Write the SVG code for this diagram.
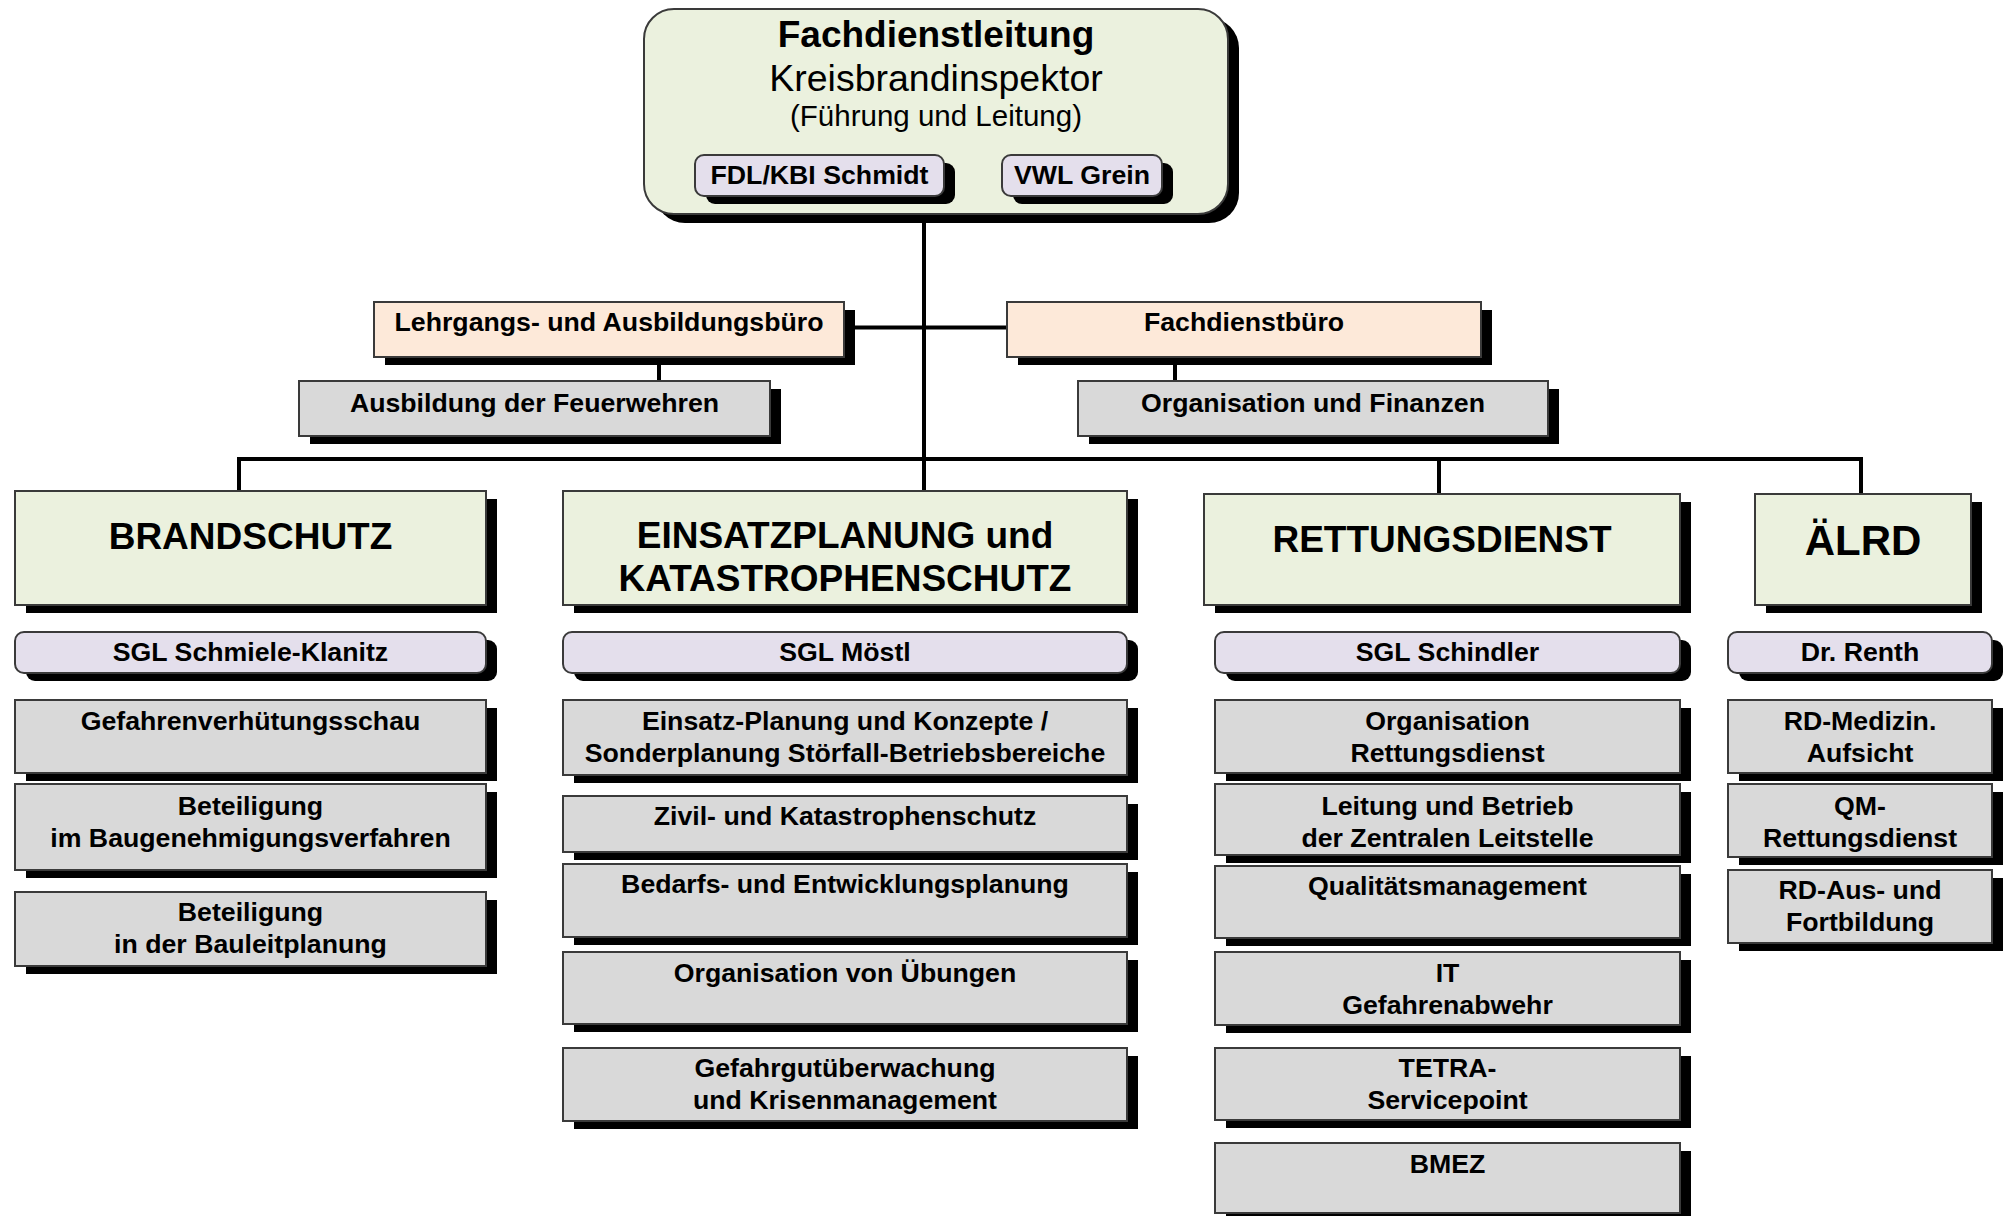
<svg xmlns="http://www.w3.org/2000/svg" width="2006" height="1216" viewBox="0 0 2006 1216">
<style>
text{font-family:"Liberation Sans",Arial,Helvetica,sans-serif;fill:#000;text-anchor:middle}
.b{font-weight:bold;font-size:26.7px}
.h{font-weight:bold;font-size:37px}
.sh{fill:#000}
.g{fill:#ebf1de;stroke:#3a3a3a;stroke-width:2}
.p{fill:#fde9d9;stroke:#3a3a3a;stroke-width:2}
.l{fill:#e4dfec;stroke:#3a3a3a;stroke-width:2}
.y{fill:#d9d9d9;stroke:#3a3a3a;stroke-width:2}
.c{fill:none;stroke:#000;stroke-width:4}
</style>
<rect width="2006" height="1216" fill="#fff"/>
<g id="connectors">
<path class="c" d="M924 214V491"/>
<path class="c" d="M844 327.5H1007"/>
<path class="c" d="M659 357V381"/>
<path class="c" d="M1175 357V381"/>
<path class="c" d="M239 459H1861"/>
<path class="c" d="M239 457V491"/>
<path class="c" d="M1439 457V494"/>
<path class="c" d="M1861 457V494"/>
</g>
<g id="fachdienstleitung">
<rect class="sh" x="655" y="18" width="584" height="205" rx="30"/>
<rect class="g" x="644" y="9" width="584" height="205" rx="30"/>
<text x="936" y="47" style="font-weight:bold;font-size:37px">Fachdienstleitung</text>
<text x="936" y="91" style="font-size:37.5px">Kreisbrandinspektor</text>
<text x="936" y="126" style="font-size:29.5px">(Führung und Leitung)</text>
</g>
<g id="fdl-kbi-schmidt">
<rect class="sh" x="706" y="163" width="249" height="41" rx="9"/>
<rect class="l" x="695" y="155" width="249" height="41" rx="9"/>
<text class="b" x="819.5" y="184">FDL/KBI Schmidt</text>
</g>
<g id="vwl-grein">
<rect class="sh" x="1013" y="163" width="160" height="41" rx="9"/>
<rect class="l" x="1002" y="155" width="160" height="41" rx="9"/>
<text class="b" x="1082" y="184">VWL Grein</text>
</g>
<g id="lehrgangsbuero">
<rect class="sh" x="385" y="310" width="470" height="55"/>
<rect class="p" x="374" y="302" width="470" height="55"/>
<text class="b" x="609" y="331">Lehrgangs- und Ausbildungsbüro</text>
</g>
<g id="fachdienstbuero">
<rect class="sh" x="1018" y="310" width="474" height="55"/>
<rect class="p" x="1007" y="302" width="474" height="55"/>
<text class="b" x="1244" y="331">Fachdienstbüro</text>
</g>
<g id="ausbildung">
<rect class="sh" x="310" y="389" width="471" height="55"/>
<rect class="y" x="299" y="381" width="471" height="55"/>
<text class="b" x="534.5" y="412">Ausbildung der Feuerwehren</text>
</g>
<g id="organisation-finanzen">
<rect class="sh" x="1089" y="389" width="470" height="55"/>
<rect class="y" x="1078" y="381" width="470" height="55"/>
<text class="b" x="1313" y="412">Organisation und Finanzen</text>
</g>
<g id="brandschutz">
<rect class="sh" x="26" y="499" width="471" height="114"/>
<rect class="g" x="15" y="491" width="471" height="114"/>
<text class="h" x="250.5" y="549">BRANDSCHUTZ</text>
</g>
<g id="einsatzplanung">
<rect class="sh" x="574" y="499" width="564" height="114"/>
<rect class="g" x="563" y="491" width="564" height="114"/>
<text class="h" x="845" y="548">EINSATZPLANUNG und</text>
<text class="h" x="845" y="591">KATASTROPHENSCHUTZ</text>
</g>
<g id="rettungsdienst">
<rect class="sh" x="1215" y="502" width="476" height="111"/>
<rect class="g" x="1204" y="494" width="476" height="111"/>
<text class="h" x="1442" y="552">RETTUNGSDIENST</text>
</g>
<g id="aelrd">
<rect class="sh" x="1766" y="502" width="216" height="111"/>
<rect class="g" x="1755" y="494" width="216" height="111"/>
<text x="1863" y="555" style="font-weight:bold;font-size:42px">ÄLRD</text>
</g>
<g id="sgl-schmiele-klanitz">
<rect class="sh" x="26" y="640" width="471" height="41" rx="9"/>
<rect class="l" x="15" y="632" width="471" height="41" rx="9"/>
<text class="b" x="250.5" y="661">SGL Schmiele-Klanitz</text>
</g>
<g id="sgl-moestl">
<rect class="sh" x="574" y="640" width="564" height="41" rx="9"/>
<rect class="l" x="563" y="632" width="564" height="41" rx="9"/>
<text class="b" x="845" y="661">SGL Möstl</text>
</g>
<g id="sgl-schindler">
<rect class="sh" x="1226" y="640" width="465" height="41" rx="9"/>
<rect class="l" x="1215" y="632" width="465" height="41" rx="9"/>
<text class="b" x="1447.5" y="661">SGL Schindler</text>
</g>
<g id="dr-renth">
<rect class="sh" x="1739" y="640" width="264" height="41" rx="9"/>
<rect class="l" x="1728" y="632" width="264" height="41" rx="9"/>
<text class="b" x="1860" y="661">Dr. Renth</text>
</g>
<g id="gefahrenverhuetungsschau">
<rect class="sh" x="26" y="708" width="471" height="73"/>
<rect class="y" x="15" y="700" width="471" height="73"/>
<text class="b" x="250.5" y="730">Gefahrenverhütungsschau</text>
</g>
<g id="baugenehmigung">
<rect class="sh" x="26" y="792" width="471" height="86"/>
<rect class="y" x="15" y="784" width="471" height="86"/>
<text class="b" x="250.5" y="815">Beteiligung</text>
<text class="b" x="250.5" y="847">im Baugenehmigungsverfahren</text>
</g>
<g id="bauleitplanung">
<rect class="sh" x="26" y="900" width="471" height="74"/>
<rect class="y" x="15" y="892" width="471" height="74"/>
<text class="b" x="250.5" y="921">Beteiligung</text>
<text class="b" x="250.5" y="953">in der Bauleitplanung</text>
</g>
<g id="einsatz-planung">
<rect class="sh" x="574" y="708" width="564" height="75"/>
<rect class="y" x="563" y="700" width="564" height="75"/>
<text class="b" x="845" y="730">Einsatz-Planung und Konzepte /</text>
<text class="b" x="845" y="762">Sonderplanung Störfall-Betriebsbereiche</text>
</g>
<g id="zivilschutz">
<rect class="sh" x="574" y="804" width="564" height="56"/>
<rect class="y" x="563" y="796" width="564" height="56"/>
<text class="b" x="845" y="825">Zivil- und Katastrophenschutz</text>
</g>
<g id="bedarfsplanung">
<rect class="sh" x="574" y="872" width="564" height="73"/>
<rect class="y" x="563" y="864" width="564" height="73"/>
<text class="b" x="845" y="893">Bedarfs- und Entwicklungsplanung</text>
</g>
<g id="uebungen">
<rect class="sh" x="574" y="960" width="564" height="72"/>
<rect class="y" x="563" y="952" width="564" height="72"/>
<text class="b" x="845" y="982">Organisation von Übungen</text>
</g>
<g id="gefahrgut">
<rect class="sh" x="574" y="1056" width="564" height="73"/>
<rect class="y" x="563" y="1048" width="564" height="73"/>
<text class="b" x="845" y="1077">Gefahrgutüberwachung</text>
<text class="b" x="845" y="1109">und Krisenmanagement</text>
</g>
<g id="organisation-rd">
<rect class="sh" x="1226" y="708" width="465" height="73"/>
<rect class="y" x="1215" y="700" width="465" height="73"/>
<text class="b" x="1447.5" y="730">Organisation</text>
<text class="b" x="1447.5" y="762">Rettungsdienst</text>
</g>
<g id="leitstelle">
<rect class="sh" x="1226" y="792" width="465" height="71"/>
<rect class="y" x="1215" y="784" width="465" height="71"/>
<text class="b" x="1447.5" y="815">Leitung und Betrieb</text>
<text class="b" x="1447.5" y="847">der Zentralen Leitstelle</text>
</g>
<g id="qualitaetsmanagement">
<rect class="sh" x="1226" y="874" width="465" height="72"/>
<rect class="y" x="1215" y="866" width="465" height="72"/>
<text class="b" x="1447.5" y="895">Qualitätsmanagement</text>
</g>
<g id="it">
<rect class="sh" x="1226" y="960" width="465" height="73"/>
<rect class="y" x="1215" y="952" width="465" height="73"/>
<text class="b" x="1447.5" y="982">IT</text>
<text class="b" x="1447.5" y="1014">Gefahrenabwehr</text>
</g>
<g id="tetra">
<rect class="sh" x="1226" y="1056" width="465" height="72"/>
<rect class="y" x="1215" y="1048" width="465" height="72"/>
<text class="b" x="1447.5" y="1077">TETRA-</text>
<text class="b" x="1447.5" y="1109">Servicepoint</text>
</g>
<g id="bmez">
<rect class="sh" x="1226" y="1151" width="465" height="70"/>
<rect class="y" x="1215" y="1143" width="465" height="70"/>
<text class="b" x="1447.5" y="1173">BMEZ</text>
</g>
<g id="rd-medizin">
<rect class="sh" x="1739" y="708" width="264" height="73"/>
<rect class="y" x="1728" y="700" width="264" height="73"/>
<text class="b" x="1860" y="730">RD-Medizin.</text>
<text class="b" x="1860" y="762">Aufsicht</text>
</g>
<g id="qm-rd">
<rect class="sh" x="1739" y="792" width="264" height="73"/>
<rect class="y" x="1728" y="784" width="264" height="73"/>
<text class="b" x="1860" y="815">QM-</text>
<text class="b" x="1860" y="847">Rettungsdienst</text>
</g>
<g id="rd-ausbildung">
<rect class="sh" x="1739" y="878" width="264" height="73"/>
<rect class="y" x="1728" y="870" width="264" height="73"/>
<text class="b" x="1860" y="899">RD-Aus- und</text>
<text class="b" x="1860" y="931">Fortbildung</text>
</g>
</svg>
